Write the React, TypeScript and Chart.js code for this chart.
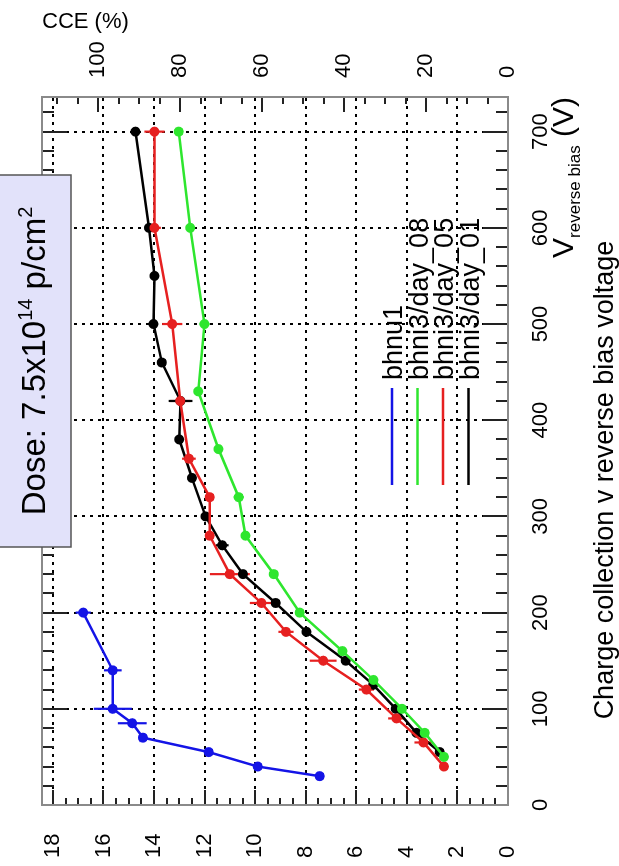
import { useEffect, useRef } from 'react';
import { Chart, registerables } from 'chart.js';

Chart.register(...registerables);

// ---------- data (voltage in V, collected charge in ke-) ----------
const bhnu1V = [30, 40, 55, 70, 85, 100, 140, 200];
const bhnu1Q = [7.45, 9.9, 11.84, 14.44, 14.86, 15.63, 15.63, 16.8];
const bhnu1Err = [0, 0, 0, 0, 0.57, 0.75, 0.35, 0.3];

const day08V = [50, 75, 100, 130, 160, 200, 240, 280, 320, 370, 430, 500, 600, 700];
const day08Q = [2.53, 3.29, 4.19, 5.32, 6.55, 8.24, 9.26, 10.38, 10.65, 11.45, 12.25, 12.0, 12.57, 13.02];
const day08Err = [0, 0, 0, 0, 0, 0, 0, 0, 0.2, 0, 0.15, 0.2, 0.15, 0];

const day05V = [40, 65, 90, 120, 150, 180, 210, 240, 280, 320, 360, 420, 500, 600, 700];
const day05Q = [2.53, 3.34, 4.41, 5.6, 7.31, 8.78, 9.75, 11.0, 11.8, 11.8, 12.62, 12.96, 13.28, 13.98, 13.98];
const day05Err = [0, 0.36, 0.33, 0.3, 0.53, 0.3, 0.46, 0.79, 0, 0.15, 0.27, 0.4, 0.4, 0.25, 0.4];

const day01V = [55, 75, 100, 125, 150, 180, 210, 240, 270, 300, 340, 380, 420, 460, 500, 550, 600, 700];
const day01Q = [2.7, 3.62, 4.44, 5.33, 6.42, 7.97, 9.19, 10.48, 11.3, 11.96, 12.5, 13.0, 12.95, 13.69, 14.02, 13.98, 14.2, 14.73];
const day01Err = [0, 0, 0, 0, 0, 0, 0, 0, 0.25, 0, 0, 0, 0.47, 0, 0, 0, 0, 0];

const seriesNames = ['bhnu1', 'bhni3/day_08', 'bhni3/day_05', 'bhni3/day_01'];
const seriesColors = ['#1414e6', '#2ee62e', '#e62020', '#000000'];

const voltageTicks = [0, 100, 200, 300, 400, 500, 600, 700];
const chargeTicks = [0, 2, 4, 6, 8, 10, 12, 14, 16, 18];
const cceTicks = [0, 20, 40, 60, 80, 100];

const xTitle = 'V';
const xTitleSub = 'reverse bias';
const xTitleUnit = ' (V)';
const mainTitle = 'Charge collection v reverse bias voltage';
const cceTitle = 'CCE (%)';
const doseText = ['Dose: 7.5x10', '14', ' p/cm', '2'];

const FONT = "'Liberation Sans', Arial, Helvetica, sans-serif";

const seriesV = [bhnu1V, day08V, day05V, day01V];
const seriesQ = [bhnu1Q, day08Q, day05Q, day01Q];
const seriesErr = [bhnu1Err, day08Err, day05Err, day01Err];

const decor = {
  id: 'decor',
  beforeDatasetsDraw(chart: any) {
    const { ctx, chartArea: a, scales } = chart;
    const x = scales.x;
    const y = scales.y;
    ctx.save();
    // dotted grid
    ctx.strokeStyle = '#000';
    ctx.lineWidth = 2;
    ctx.setLineDash([3, 5]);
    voltageTicks.forEach((v) => {
      if (v === 0) return;
      const px = Math.round(x.getPixelForValue(v));
      ctx.beginPath();
      ctx.moveTo(px, a.top);
      ctx.lineTo(px, a.bottom);
      ctx.stroke();
    });
    chargeTicks.forEach((q) => {
      if (q === 0) return;
      const py = Math.round(y.getPixelForValue(q));
      ctx.beginPath();
      ctx.moveTo(a.left, py);
      ctx.lineTo(a.right, py);
      ctx.stroke();
    });
    ctx.setLineDash([]);
    // error bars
    seriesV.forEach((vs, i) => {
      ctx.strokeStyle = seriesColors[i];
      ctx.lineWidth = 2.2;
      vs.forEach((v, j) => {
        const e = seriesErr[i][j];
        if (!e) return;
        const px = x.getPixelForValue(v);
        ctx.beginPath();
        ctx.moveTo(px, y.getPixelForValue(seriesQ[i][j] - e));
        ctx.lineTo(px, y.getPixelForValue(seriesQ[i][j] + e));
        ctx.stroke();
      });
    });
    ctx.restore();
  },
  afterDraw(chart: any) {
    const { ctx, chartArea: a, scales } = chart;
    const x = scales.x;
    const y = scales.y;
    const y2 = scales.y2;
    ctx.save();
    // inward tick marks
    ctx.strokeStyle = '#222';
    ctx.lineWidth = 2;
    for (let v = 20; v <= x.max; v += 20) {
      const px = Math.round(x.getPixelForValue(v));
      const len = v % 100 === 0 ? 25 : 12;
      ctx.beginPath();
      ctx.moveTo(px, a.top);
      ctx.lineTo(px, a.top + len);
      ctx.moveTo(px, a.bottom);
      ctx.lineTo(px, a.bottom - len);
      ctx.stroke();
    }
    for (let q = 0.5; q <= y.max; q += 0.5) {
      const py = Math.round(y.getPixelForValue(q));
      const len = q % 2 === 0 ? 15 : 7;
      ctx.beginPath();
      ctx.moveTo(a.left, py);
      ctx.lineTo(a.left + len, py);
      ctx.stroke();
    }
    for (let c = 5; c <= y2.max; c += 5) {
      const py = Math.round(y2.getPixelForValue(c));
      const len = c % 20 === 0 ? 15 : 7;
      ctx.beginPath();
      ctx.moveTo(a.right, py);
      ctx.lineTo(a.right - len, py);
      ctx.stroke();
    }
    // frame
    ctx.strokeStyle = '#8a8a8a';
    ctx.lineWidth = 2;
    ctx.strokeRect(a.left, a.top, a.right - a.left, a.bottom - a.top);

    // legend
    ctx.textBaseline = 'alphabetic';
    ctx.textAlign = 'left';
    ctx.font = `27px ${FONT}`;
    seriesNames.forEach((name, i) => {
      const ry = 392 + i * 25.5;
      ctx.strokeStyle = seriesColors[i];
      ctx.lineWidth = 2.5;
      ctx.beginPath();
      ctx.moveTo(381, ry);
      ctx.lineTo(478, ry);
      ctx.stroke();
      ctx.fillStyle = '#000';
      ctx.fillText(name, 486, ry + 10);
    });

    // dose box
    ctx.fillStyle = '#e2e2fa';
    ctx.fillRect(319, -2, 372, 73);
    ctx.strokeStyle = '#555';
    ctx.lineWidth = 1.5;
    ctx.strokeRect(319, -2, 372, 73);
    const big = `33px ${FONT}`;
    const small = `20px ${FONT}`;
    const parts = [
      { t: doseText[0], f: big, dy: 0 },
      { t: doseText[1], f: small, dy: -13 },
      { t: doseText[2], f: big, dy: 0 },
      { t: doseText[3], f: small, dy: -13 },
    ];
    let total = 0;
    parts.forEach((p) => { ctx.font = p.f; total += ctx.measureText(p.t).width; });
    let cx = 505 - total / 2;
    ctx.fillStyle = '#000';
    parts.forEach((p) => {
      ctx.font = p.f;
      ctx.fillText(p.t, cx, 45 + p.dy);
      cx += ctx.measureText(p.t).width;
    });

    // x axis title (right aligned)
    ctx.font = `30px ${FONT}`;
    const wV = ctx.measureText(xTitle).width;
    const wU = ctx.measureText(xTitleUnit).width;
    ctx.font = `17px ${FONT}`;
    const wS = ctx.measureText(xTitleSub).width;
    let tx = a.right - (wV + wS + wU);
    ctx.font = `30px ${FONT}`;
    ctx.fillText(xTitle, tx, 573);
    tx += wV;
    ctx.font = `17px ${FONT}`;
    ctx.fillText(xTitleSub, tx, 580);
    tx += wS;
    ctx.font = `30px ${FONT}`;
    ctx.fillText(xTitleUnit, tx, 573);

    // main title
    ctx.font = `27px ${FONT}`;
    ctx.textAlign = 'center';
    ctx.fillText(mainTitle, 386, 613);

    // CCE title, drawn so it reads horizontally after page rotation
    ctx.save();
    ctx.translate(838, 42);
    ctx.rotate(Math.PI / 2);
    ctx.textAlign = 'left';
    ctx.font = `22px ${FONT}`;
    ctx.fillText(cceTitle, 0, 0);
    ctx.restore();

    ctx.restore();
  },
};

export default function App() {
  const ref = useRef<HTMLCanvasElement>(null);
  useEffect(() => {
    const canvas = ref.current!;
    const CHARGE_MAX = 18.43;
    const CCE_PER_CHARGE = 100 / 16.2;
    const chart = new Chart(canvas, {
      type: 'scatter',
      data: {
        datasets: seriesNames.map((name, i) => ({
          label: name,
          data: seriesV[i].map((v, j) => ({ x: v, y: seriesQ[i][j] })),
          showLine: true,
          borderColor: seriesColors[i],
          backgroundColor: seriesColors[i],
          borderWidth: 2.5,
          pointRadius: 5,
          pointBorderWidth: 0,
          pointBackgroundColor: seriesColors[i],
          yAxisID: 'y',
        })),
      },
      options: {
        responsive: false,
        animation: false,
        devicePixelRatio: 1,
        layout: { padding: { top: 42, left: 8, right: 0, bottom: 0 } },
        plugins: { legend: { display: false }, tooltip: { enabled: false } },
        events: [],
        scales: {
          x: {
            type: 'linear',
            position: 'bottom',
            min: 0,
            max: 736,
            grid: { display: false },
            border: { display: false },
            ticks: {
              stepSize: 100,
              includeBounds: false,
              maxRotation: 0,
              padding: 12,
              color: '#000',
              font: { size: 22, family: FONT },
              callback: (v: any) => (voltageTicks.includes(Number(v)) ? String(v) : ''),
            },
            afterFit: (s: any) => { s.height = 111; },
          },
          y: {
            type: 'linear',
            position: 'left',
            min: 0,
            max: CHARGE_MAX,
            grid: { display: false },
            border: { display: false },
            ticks: {
              stepSize: 2,
              includeBounds: false,
              crossAlign: 'far',
              color: '#000',
              font: { size: 22, family: FONT },
              callback: (v: any) => (chargeTicks.includes(Number(v)) ? String(v) : ''),
            },
            afterFit: (s: any) => { s.width = 53; },
          },
          y2: {
            type: 'linear',
            position: 'right',
            min: 0,
            max: CHARGE_MAX * CCE_PER_CHARGE,
            grid: { display: false },
            border: { display: false },
            ticks: {
              stepSize: 20,
              includeBounds: false,
              padding: 11,
              color: '#000',
              font: { size: 22, family: FONT },
              callback: (v: any) => (cceTicks.includes(Number(v)) ? String(v) : ''),
            },
            afterFit: (s: any) => { s.width = 97; },
          },
        },
      } as any,
      plugins: [decor],
    });
    return () => chart.destroy();
  }, []);
  return (
    <div style={{ position: 'fixed', left: 0, top: 0, width: 619, height: 866, overflow: 'hidden', background: '#fff' }}>
      <canvas
        ref={ref}
        width={866}
        height={619}
        style={{
          position: 'absolute',
          left: 0,
          top: 0,
          width: 866,
          height: 619,
          transformOrigin: '0 0',
          transform: 'translateY(866px) rotate(-90deg)',
        }}
      />
    </div>
  );
}
